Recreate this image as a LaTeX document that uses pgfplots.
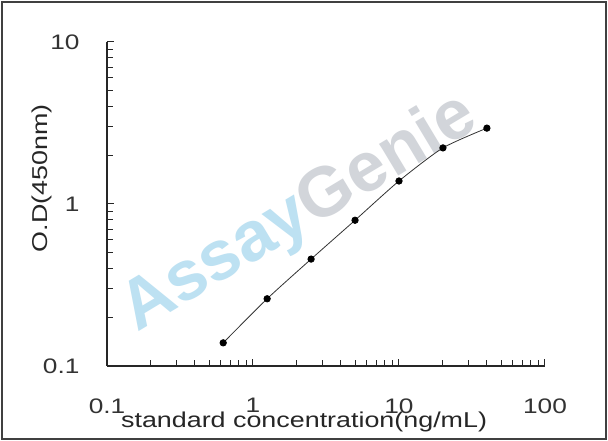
\documentclass[border=0pt]{standalone}
\usepackage{fontspec}
\setmainfont{Liberation Sans}[FakeStretch=1.25]
\newfontfamily\wmfont{Liberation Sans}
\usepackage{pgfplots}
\pgfplotsset{compat=1.18}
\definecolor{wmblue}{HTML}{BDE1F2}
\definecolor{wmgray}{HTML}{D2D5DA}
\definecolor{frame}{HTML}{404040}

\begin{document}
\begin{tikzpicture}[x=1pt,y=1pt]
\useasboundingbox (0,0) rectangle (608,441);
\fill[white] (0,0) rectangle (608,441);
% watermark
\node[rotate=31, anchor=base west, inner sep=0pt,
  font=\wmfont\bfseries\fontsize{70}{70}\selectfont] at (137,108)
  {\textcolor{wmblue}{Assay}\textcolor{wmgray}{Genie}};
\begin{axis}[
  at={(107pt,75pt)}, anchor=south west,
  scale only axis, width=438pt, height=324pt,
  xmode=log, ymode=log,
  xmin=0.1, xmax=100, ymin=0.1, ymax=10,
  axis x line*=bottom, axis y line*=left,
  axis line style={line width=1.3pt, black!85},
  every tick/.style={black!85, line width=1pt},
  major tick length=7pt, minor tick length=6pt,
  tick align=inside,
  xtick={0.1,1,10,100}, xticklabels={0.1,1,10,100},
  ytick={0.1,1,10}, yticklabels={0.1,1,10},
  tick label style={font=\fontsize{21}{24}\selectfont, text=black!80},
  xticklabel style={yshift=-29pt},
  yticklabel style={xshift=-24pt},
  xlabel={standard concentration(ng/mL)},
  ylabel={O.D(450nm)},
  every axis x label/.style={at={(axis description cs:0.45,-0.191)}, anchor=base,
    font=\fontsize{21.5}{24}\selectfont, text=black!85},
  every axis y label/.style={at={(axis description cs:-0.148,0.58)}, rotate=90, anchor=center,
    font=\fontsize{21.5}{24}\selectfont, text=black!85},
  clip=false,
]
\addplot[black!80, line width=0.8pt, smooth, tension=0.4,
  mark=*, mark size=3.2pt, mark options={fill=black, draw=black}]
  coordinates {
  (0.625,0.139) (1.25,0.26) (2.5,0.457) (5,0.794)
  (10,1.387) (20,2.22) (40,2.94)
};
\end{axis}
\draw[frame, line width=2pt] (2,2) rectangle (606,439);
\end{tikzpicture}
\end{document}
